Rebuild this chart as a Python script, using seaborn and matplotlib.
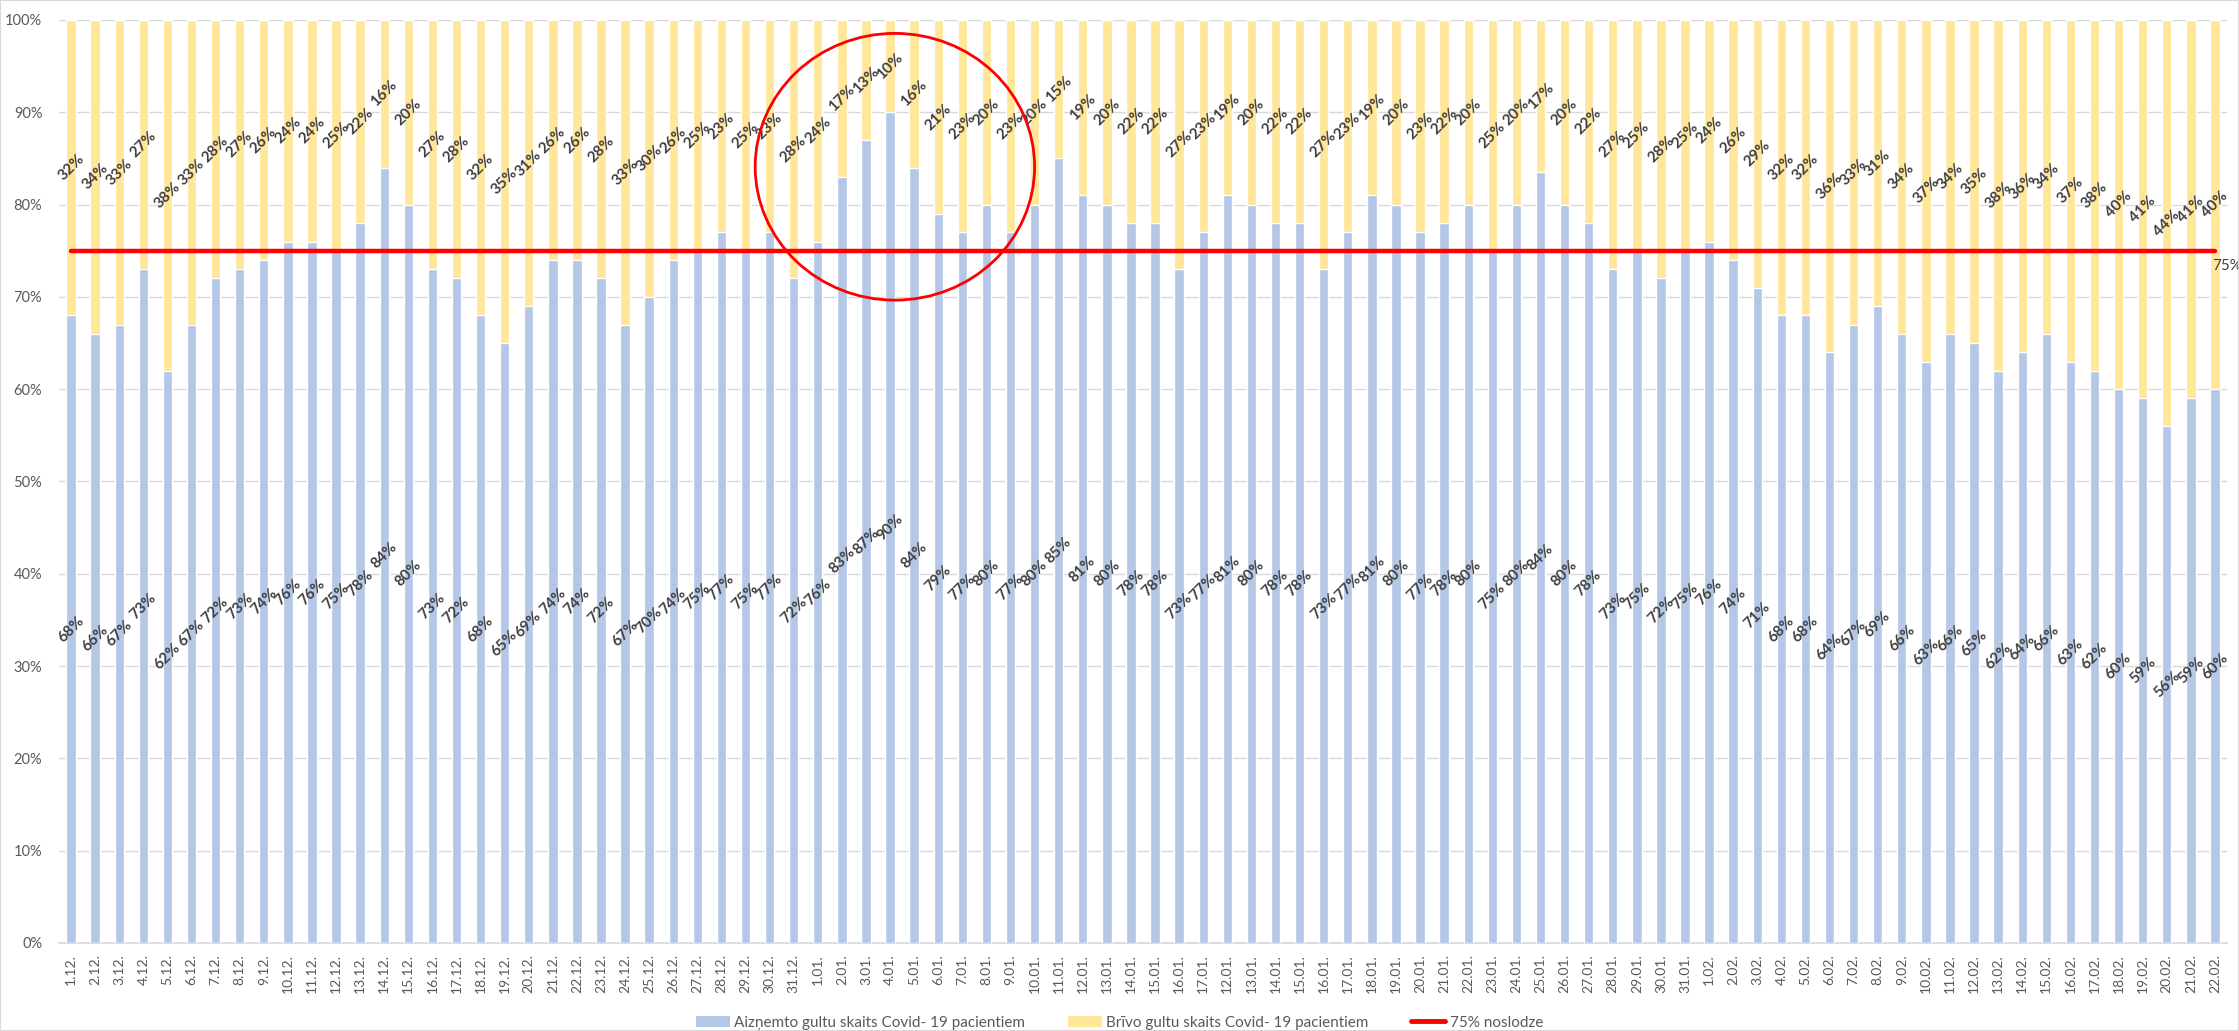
import numpy as np
import pandas as pd
import matplotlib
matplotlib.use("Agg")
import matplotlib.pyplot as plt
import seaborn as sns
from matplotlib.patches import Ellipse, Patch, Rectangle
from matplotlib.lines import Line2D

# ---------------- data ----------------
dates = [
    "1.12.", "2.12.", "3.12.", "4.12.", "5.12.", "6.12.", "7.12.", "8.12.", "9.12.", "10.12.",
    "11.12.", "12.12.", "13.12.", "14.12.", "15.12.", "16.12.", "17.12.", "18.12.", "19.12.", "20.12.",
    "21.12.", "22.12.", "23.12.", "24.12.", "25.12.", "26.12.", "27.12.", "28.12.", "29.12.", "30.12.",
    "31.12.",
    "1.01.", "2.01.", "3.01.", "4.01.", "5.01.", "6.01.", "7.01.", "8.01.", "9.01.", "10.01.",
    "11.01.", "12.01.", "13.01.", "14.01.", "15.01.", "16.01.", "17.01.",
    "12.01.", "13.01.", "14.01.", "15.01.", "16.01.", "17.01.", "18.01.", "19.01.", "20.01.",
    "21.01.", "22.01.", "23.01.", "24.01.", "25.01.", "26.01.", "27.01.", "28.01.", "29.01.",
    "30.01.", "31.01.",
    "1.02.", "2.02.", "3.02.", "4.02.", "5.02.", "6.02.", "7.02.", "8.02.", "9.02.", "10.02.",
    "11.02.", "12.02.", "13.02.", "14.02.", "15.02.", "16.02.", "17.02.", "18.02.", "19.02.", "20.02.",
    "21.02.", "22.02.",
]

occupied_dec = [68, 66, 67, 73, 62, 67, 72, 73, 74, 76, 76, 75, 78, 84, 80, 73, 72, 68, 65, 69,
                74, 74, 72, 67, 70, 74, 75, 77, 75, 77, 72]
occupied_jan = [76, 83, 87, 90, 84, 79, 77, 80, 77, 80, 85, 81, 80, 78, 78, 73, 77,
                81, 80, 78, 78, 73, 77, 81, 80, 77, 78, 80, 75, 80, 83.5, 80, 78, 73, 75, 72, 75]
occupied_feb = [76, 74, 71, 68, 68, 64, 67, 69, 66, 63, 66, 65, 62, 64, 66, 63, 62, 60, 59, 56, 59, 60]

free_dec = [32, 34, 33, 27, 38, 33, 28, 27, 26, 24, 24, 25, 22, 16, 20, 27, 28, 32, 35, 31,
            26, 26, 28, 33, 30, 26, 25, 23, 25, 23, 28]
free_jan = [24, 17, 13, 10, 16, 21, 23, 20, 23, 20, 15, 19, 20, 22, 22, 27, 23,
            19, 20, 22, 22, 27, 23, 19, 20, 23, 22, 20, 25, 20, 16.5, 20, 22, 27, 25, 28, 25]
free_feb = [24, 26, 29, 32, 32, 36, 33, 31, 34, 37, 34, 35, 38, 36, 34, 37, 38, 40, 41, 44, 41, 40]

threshold = 75

series_names = ["Aizņemto gultu skaits Covid- 19 pacientiem",
                "Brīvo gultu skaits Covid- 19 pacientiem",
                "75% noslodze"]

occupied = occupied_dec + occupied_jan + occupied_feb
free = free_dec + free_jan + free_feb
n = len(dates)

BLUE = "#B4C7E7"
YELLOW = "#FFE699"
RED = "#FF0000"
GRAY = "#595959"
LBL = "#404040"

# ---------------- plot ----------------
sns.set_theme(style="white")
plt.rcParams["font.family"] = ["Lato", "DejaVu Sans"]

W, H = 2239, 1031
fig = plt.figure(figsize=(W / 100, H / 100), dpi=100)
ax = fig.add_axes([59 / W, 1 - 943 / H, (2227 - 59) / W, (943 - 20) / H])

df = pd.DataFrame({"pos": np.arange(n),
                   "occ": occupied,
                   "total": np.array(occupied) + np.array(free)})

sns.barplot(data=df, x="pos", y="total", color=YELLOW, width=0.39, saturation=1,
            errorbar=None, ax=ax, zorder=2)
sns.barplot(data=df, x="pos", y="occ", color=BLUE, width=0.39, saturation=1,
            errorbar=None, ax=ax, zorder=3)
sns.lineplot(x=df["pos"], y=[threshold] * n, color=RED, linewidth=3.2, ax=ax, zorder=4)

ax.set_xlim(-0.5, n - 0.5)
ax.set_ylim(0, 100)
ax.set_yticks(range(0, 101, 10))
ax.set_yticklabels([f"{v}%" for v in range(0, 101, 10)], fontsize=10.5, color=GRAY)
ax.set_xticks(range(n))
ax.set_xticklabels(dates, rotation=90, fontsize=10, color=GRAY)
ax.tick_params(axis="both", length=0)
ax.tick_params(axis="y", pad=12)
ax.tick_params(axis="x", pad=8)
ax.set_xlabel("")
ax.set_ylabel("")
ax.grid(axis="y", color="#D9D9D9", linewidth=1)
ax.grid(axis="x", visible=False)
ax.set_axisbelow(True)
for s in ["left", "right", "top"]:
    ax.spines[s].set_visible(False)
ax.spines["bottom"].set_color("#D9D9D9")


def fmt(v):
    return f"{int(np.floor(v + 0.5))}%"


for i in range(n):
    o, f = occupied[i], free[i]
    ax.text(i, o / 2, fmt(o), rotation=45, ha="center", va="center", fontsize=11,
            fontweight="bold", color=LBL, zorder=5)
    ax.text(i, o + f / 2, fmt(f), rotation=45, ha="center", va="center", fontsize=11,
            fontweight="bold", color=LBL, zorder=5)

ax.annotate(f"{threshold}%", xy=(n - 1, threshold), xytext=(-2, -11), textcoords="offset points",
            ha="left", va="center", fontsize=11, color=LBL, annotation_clip=False, zorder=6)

# highlight circle (annotation)
ci = dates.index("4.01.")
ax.add_patch(Ellipse((ci + 0.2, 84.1), width=11.6, height=28.9, fill=False,
                     edgecolor=RED, linewidth=2, zorder=7, clip_on=False))

handles = [Patch(facecolor=BLUE, edgecolor="none"),
           Patch(facecolor=YELLOW, edgecolor="none"),
           Line2D([], [], color=RED, linewidth=3.5)]
fig.legend(handles, series_names, loc="lower center", bbox_to_anchor=(0.5, -0.012), ncol=3,
           frameon=False, fontsize=11, handlelength=2.2, handletextpad=0.3,
           columnspacing=2.8, labelcolor=GRAY)

fig.patches.append(Rectangle((0, 0), 1, 1, transform=fig.transFigure, fill=False,
                             edgecolor="#D9D9D9", linewidth=1.5))

fig.savefig("out.png", dpi=100)
